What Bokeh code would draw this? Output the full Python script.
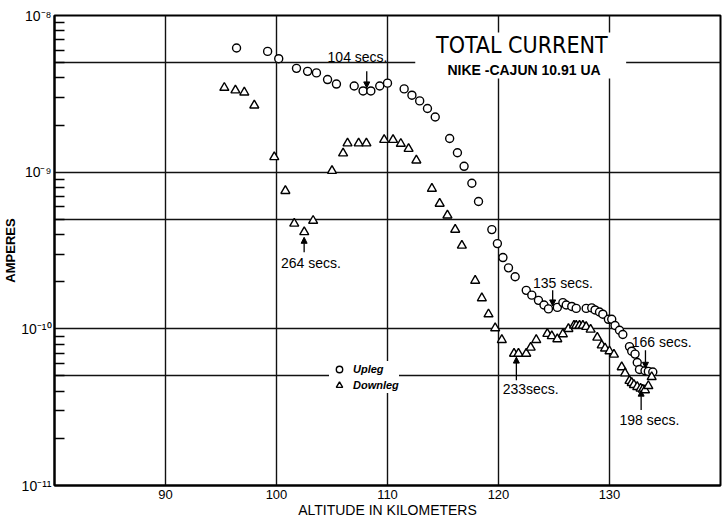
from bokeh.plotting import figure
from bokeh.models import (FixedTicker, Label, Arrow, NormalHead, BoxAnnotation,
                          Legend, LegendItem, CustomJSTickFormatter)
from bokeh.embed import file_html
from bokeh.resources import INLINE

# ---- data ----
up_alt = [96.4, 99.2, 100.2, 101.8, 102.8, 103.6, 104.6, 105.4, 107.0, 107.8, 108.5, 109.3,
          110.0, 111.5, 112.2, 112.9, 113.6, 114.3, 115.6, 116.3, 116.9, 117.6, 118.2, 119.4,
          119.9, 120.4, 120.9, 121.5, 122.5, 123.0, 123.6, 124.1, 124.5, 125.3, 125.8, 126.1,
          126.6, 127.0, 127.9, 128.4, 128.7, 129.1, 129.4, 129.9, 130.2, 130.5, 130.9, 131.2,
          131.8, 132.0, 132.3, 132.5, 132.7, 133.2, 133.5, 133.9]
up_cur = [6.2e-9, 5.9e-9, 5.3e-9, 4.6e-9, 4.4e-9, 4.3e-9, 3.9e-9, 3.65e-9, 3.55e-9, 3.3e-9,
          3.3e-9, 3.55e-9, 3.7e-9, 3.4e-9, 3.1e-9, 2.85e-9, 2.55e-9, 2.25e-9, 1.64e-9, 1.33e-9,
          1.09e-9, 8.5e-10, 6.5e-10, 4.3e-10, 3.5e-10, 2.85e-10, 2.45e-10, 2.15e-10, 1.76e-10,
          1.64e-10, 1.52e-10, 1.42e-10, 1.34e-10, 1.37e-10, 1.47e-10, 1.42e-10, 1.39e-10,
          1.35e-10, 1.35e-10, 1.36e-10, 1.32e-10, 1.28e-10, 1.24e-10, 1.15e-10, 1.15e-10,
          1.05e-10, 9.8e-11, 9.2e-11, 7.7e-11, 7.2e-11, 6.9e-11, 6.1e-11, 5.5e-11, 5.4e-11,
          5.35e-11, 5.3e-11]

dn_alt = [95.3, 96.3, 97.1, 98.0, 99.8, 100.8, 101.6, 102.5, 103.3, 105.0, 106.0, 106.4,
          107.4, 108.1, 109.7, 110.5, 111.2, 111.9, 112.6, 114.0, 114.7, 115.4, 116.1, 116.7,
          117.9, 118.5, 119.1, 119.7, 120.3, 121.4, 121.8, 122.5, 122.9, 123.4, 124.4, 124.8,
          125.3, 125.8, 126.3, 126.8, 127.0, 127.3, 127.6, 127.9, 128.3, 128.9, 129.3, 129.6,
          130.0, 130.4, 131.1, 131.4, 131.8, 132.0, 132.2, 132.5, 132.8, 133.0, 133.2, 133.5,
          133.8]
dn_cur = [3.46e-9, 3.33e-9, 3.23e-9, 2.67e-9, 1.25e-9, 7.6e-10, 4.7e-10, 4.15e-10, 4.9e-10,
          1.02e-9, 1.32e-9, 1.53e-9, 1.53e-9, 1.53e-9, 1.61e-9, 1.61e-9, 1.52e-9, 1.41e-9,
          1.19e-9, 7.85e-10, 6.3e-10, 5.3e-10, 4.3e-10, 3.4e-10, 2.03e-10, 1.57e-10, 1.24e-10,
          1.01e-10, 8.5e-11, 6.95e-11, 6.95e-11, 6.95e-11, 7.6e-11, 8.5e-11, 9.3e-11, 9.0e-11,
          8.6e-11, 9.25e-11, 1.0e-10, 1.05e-10, 1.05e-10, 1.05e-10, 1.05e-10, 1.03e-10, 9.9e-11,
          8.8e-11, 7.85e-11, 7.5e-11, 7.2e-11, 6.85e-11, 5.7e-11, 5.2e-11, 4.66e-11, 4.52e-11,
          4.39e-11, 4.26e-11, 4.16e-11, 4.1e-11, 4.06e-11, 4.32e-11, 4.93e-11]

x_ticks = [90, 100, 110, 120, 130]
y_major = [1e-11, 1e-10, 1e-9, 1e-8]
y_minor = [m * d for d in (1e-11, 1e-10, 1e-9) for m in range(2, 10)]
y_grid = [5e-9, 1e-9, 5e-10, 1e-10, 5e-11]

# annotations: (text, label x, label y, arrow start y, arrow end y, arrow x)
notes = [
    ("104 secs.", 107.3, 5.4e-9, 4.4e-9, 3.45e-9, 108.13),
    ("264 secs.", 103.1, 2.62e-10, 3.08e-10, 3.84e-10, 102.49),
    ("135 secs.", 125.8, 1.95e-10, 1.76e-10, 1.40e-10, 124.88),
    ("166 secs.", 134.7, 8.26e-11, 7.3e-11, 5.6e-11, 133.24),
    ("233secs.", 122.9, 4.12e-11, 4.7e-11, 6.6e-11, 121.61),
    ("198 secs.", 133.6, 2.61e-11, 3.03e-11, 4.06e-11, 132.85),
]

FONT = "Liberation Sans"
NARROW = "'DejaVu Sans Condensed', Roboto, sans-serif"

p = figure(width=724, height=522, y_axis_type="log", x_range=(80, 140), y_range=(1e-11, 1e-8),
           output_backend="svg", toolbar_location=None,
           min_border_left=53, min_border_right=4, min_border_top=15, min_border_bottom=37)
p.background_fill_color = "white"
p.border_fill_color = "white"
p.outline_line_color = "black"
p.outline_line_width = 2

# grids
p.xgrid.ticker = FixedTicker(ticks=x_ticks)
p.ygrid.ticker = FixedTicker(ticks=y_grid)
for g in (p.xgrid, p.ygrid):
    g.grid_line_color = "#111111"
    g.grid_line_width = 1.4
    g.grid_line_alpha = 1.0

# x axis
xa = p.xaxis[0]
xa.ticker = FixedTicker(ticks=x_ticks)
xa.major_tick_in = 0
xa.major_tick_out = 0
xa.minor_tick_line_color = None
xa.axis_line_width = 2
xa.major_label_standoff = 4
xa.major_label_text_font = FONT
xa.major_label_text_font_size = "13px"
xa.major_label_text_color = "black"
xa.axis_label = "ALTITUDE IN KILOMETERS"
xa.axis_label_standoff = 0
xa.axis_label_text_font = FONT
xa.axis_label_text_font_size = "14px"
xa.axis_label_text_font_style = "normal"
xa.axis_label_text_color = "black"

# y axis
ya = p.yaxis[0]
ya.ticker = FixedTicker(ticks=y_major, minor_ticks=y_minor)
ya.major_tick_in = 0
ya.major_tick_out = 0
ya.minor_tick_in = 10
ya.minor_tick_out = 0
ya.minor_tick_line_width = 1.5
ya.minor_tick_line_color = "black"
ya.axis_line_width = 2
ya.major_label_standoff = 3
ya.major_label_text_font = FONT
ya.major_label_text_font_size = "14px"
ya.major_label_text_color = "black"
ya.formatter = CustomJSTickFormatter(code="""
const sup = {"-": "\u207b", "0": "\u2070", "1": "\u00b9", "2": "\u00b2", "3": "\u00b3",
             "4": "\u2074", "5": "\u2075", "6": "\u2076", "7": "\u2077", "8": "\u2078", "9": "\u2079"};
const e = String(Math.round(Math.log10(tick)));
return "10" + e.split("").map(c => sup[c]).join("");
""")
ya.axis_label = "AMPERES"
ya.axis_label_standoff = 0
ya.axis_label_text_font = FONT
ya.axis_label_text_font_size = "13px"
ya.axis_label_text_font_style = "bold"
ya.axis_label_text_color = "black"

# data
r_up = p.scatter(up_alt, up_cur, marker="circle", size=8, fill_color="white",
                 line_color="black", line_width=1.4)
r_dn = p.scatter(dn_alt, dn_cur, marker="triangle", size=9, fill_color="white",
                 line_color="black", line_width=1.4)

# white box behind the title (breaks the grid lines as in the original)
p.add_layout(BoxAnnotation(left=112.5, right=131.5, bottom=3.96e-9, top=7.8e-9,
                           fill_color="white", fill_alpha=1.0, line_color=None))

p.add_layout(Label(x=122.1, y=6.44e-9, text="TOTAL CURRENT", text_align="center",
                   text_baseline="middle", text_font=NARROW,
                   text_font_size="23px", text_color="black"))
p.add_layout(Label(x=122.3, y=4.46e-9, text="NIKE -CAJUN 10.91 UA", text_align="center",
                   text_baseline="middle", text_font=FONT, text_font_style="bold",
                   text_font_size="14px", text_color="black"))

for text, lx, ly, ys, ye, ax in notes:
    p.add_layout(Label(x=lx, y=ly, text=text, text_align="center", text_baseline="middle",
                       text_font=FONT, text_font_size="14px", text_color="black"))
    p.add_layout(Arrow(end=NormalHead(size=6, fill_color="black", line_color="black"),
                       x_start=ax, y_start=ys, x_end=ax, y_end=ye,
                       line_color="black", line_width=1.3))

legend = Legend(items=[LegendItem(label="Upleg", renderers=[r_up]),
                       LegendItem(label="Downleg", renderers=[r_dn])],
                location=(275, 92), padding=4, margin=0, spacing=0,
                label_height=16, glyph_height=16, glyph_width=20, label_standoff=4,
                border_line_color=None, background_fill_color="white",
                background_fill_alpha=1.0,
                label_text_font=FONT, label_text_font_style="bold italic",
                label_text_font_size="11px", label_text_color="black")
p.add_layout(legend)

open("out.html", "w").write(file_html(p, INLINE))
